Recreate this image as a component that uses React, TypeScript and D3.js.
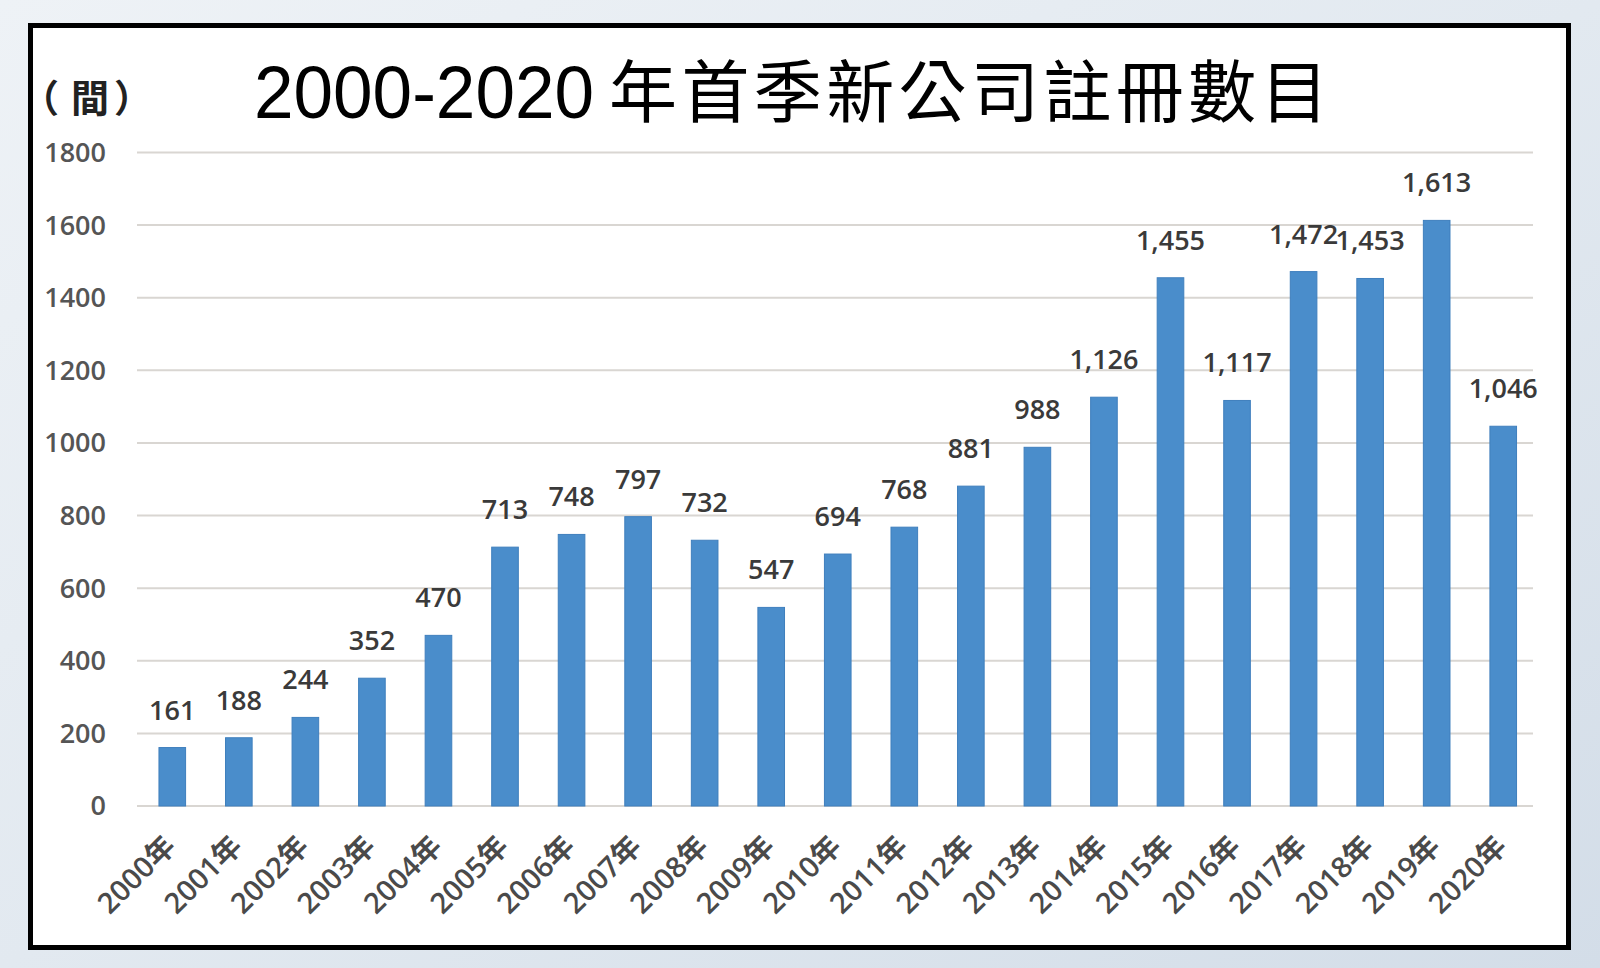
import React from "react";
import * as d3 from "d3";

const years = ["2000年","2001年","2002年","2003年","2004年","2005年","2006年","2007年","2008年","2009年","2010年","2011年","2012年","2013年","2014年","2015年","2016年","2017年","2018年","2019年","2020年"];
const counts = [161,188,244,352,470,713,748,797,732,547,694,768,881,988,1126,1455,1117,1472,1453,1613,1046];
const yTicks = [0,200,400,600,800,1000,1200,1400,1600,1800];
const titleYears = "2000-2020";
const titleText = "年首季新公司註冊數目";
const unitLabel = ["（", "間", "）"];

export default function App() {
  const W = 1600, H = 968;
  const x = d3.scaleBand<string>().domain(years).range([139, 1536.5]).paddingInner(0.6).paddingOuter(0.3);
  const y = d3.scaleLinear().domain([0, 1800]).range([806, 152.5]);
  const fmt = d3.format(",");
  const labelFont = "'Open Sans', 'Noto Sans CJK TC', sans-serif";
  return (
    <div style={{ position: "fixed", left: 0, top: 0 }}>
      <svg width={W} height={H} style={{ display: "block" }}>
        <defs>
          <linearGradient id="bg" x1="0" y1="0" x2="1" y2="1">
            <stop offset="0" stopColor="#eef2f6" />
            <stop offset="0.5" stopColor="#e2e9f0" />
            <stop offset="1" stopColor="#d3dde8" />
          </linearGradient>
        </defs>
        <rect x={0} y={0} width={W} height={H} fill="url(#bg)" />
        <rect x={30.5} y={25.5} width={1538} height={922} fill="#ffffff" stroke="#000" strokeWidth={5} />
        <text x={254} y={118} fontSize={75} fontFamily="'Liberation Sans', sans-serif" fill="#000" textLength={340} lengthAdjust="spacingAndGlyphs">{titleYears}</text>
        <text x={609} y={117} fontSize={68} letterSpacing={4.4} fontFamily="'Noto Sans CJK TC', sans-serif" fill="#000">{titleText}</text>
        <g fontSize={38} fontWeight="bold" fontFamily="'Noto Sans CJK TC', sans-serif" fill="#222">
          <text x={21} y={112}>{unitLabel[0]}</text>
          <text x={90} y={112} textAnchor="middle">{unitLabel[1]}</text>
          <text x={114} y={112}>{unitLabel[2]}</text>
        </g>
        {yTicks.map((t) => (
          <g key={t}>
            <line x1={137} x2={1533} y1={y(t)} y2={y(t)} stroke="#d9d6d2" strokeWidth={2} />
            <text x={106} y={y(t)} dy="0.35em" textAnchor="end" fontSize={27} fontWeight={600} fontFamily={labelFont} fill="#555">{t}</text>
          </g>
        ))}
        {years.map((yr, i) => {
          const cx = (x(yr) as number) + x.bandwidth() / 2;
          return (
            <g key={yr}>
              <rect x={x(yr)} y={y(counts[i])} width={x.bandwidth()} height={y(0) - y(counts[i])} fill="#4a8dcb" stroke="#3f7fbd" strokeWidth={1} />
              <text x={cx} y={y(counts[i]) - 28} textAnchor="middle" fontSize={27} fontWeight={600} fontFamily={labelFont} fill="#3a3a3a">{fmt(counts[i])}</text>
              <text transform={`translate(${cx + 5},${848}) rotate(-45)`} textAnchor="end" fontSize={29} fontWeight={600} fontFamily={labelFont} fill="#4a4a4a">{yr}</text>
            </g>
          );
        })}
      </svg>
    </div>
  );
}
